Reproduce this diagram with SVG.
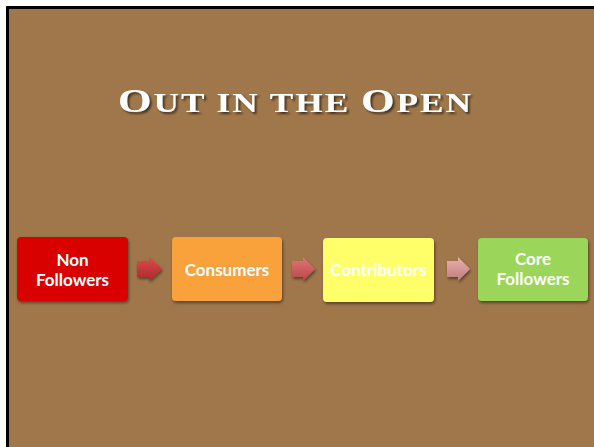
<svg xmlns="http://www.w3.org/2000/svg" width="594" height="447" viewBox="0 0 594 447">
<defs>
<style>
.lbl{font-family:Lato,"Open Sans","Liberation Sans",sans-serif;font-weight:bold;font-size:17px;fill:#fff;text-anchor:middle}
.title{font-family:"Liberation Serif","DejaVu Serif",serif;font-weight:bold;fill:#fff;letter-spacing:1.5px}
</style>
<filter id="sh" x="-20%" y="-20%" width="140%" height="150%">
<feGaussianBlur in="SourceAlpha" stdDeviation="1.5"/>
<feOffset dx="1" dy="2" result="b"/>
<feComponentTransfer><feFuncA type="linear" slope="0.45"/></feComponentTransfer>
<feMerge><feMergeNode/><feMergeNode in="SourceGraphic"/></feMerge>
</filter>
<filter id="tsh" x="-10%" y="-30%" width="120%" height="160%">
<feGaussianBlur in="SourceAlpha" stdDeviation="1.2"/>
<feOffset dx="2" dy="2"/>
<feComponentTransfer><feFuncA type="linear" slope="0.6"/></feComponentTransfer>
<feMerge><feMergeNode/><feMergeNode in="SourceGraphic"/></feMerge>
</filter>
<linearGradient id="g1" x1="0" y1="0" x2="0" y2="1"><stop offset="0" stop-color="#e04a4a"/><stop offset="1" stop-color="#a82a2a"/></linearGradient>
<linearGradient id="g2" x1="0" y1="0" x2="0" y2="1"><stop offset="0" stop-color="#e27575"/><stop offset="1" stop-color="#b84848"/></linearGradient>
<linearGradient id="g3" x1="0" y1="0" x2="0" y2="1"><stop offset="0" stop-color="#eab0b0"/><stop offset="1" stop-color="#c07c7c"/></linearGradient>
</defs>
<rect x="0" y="0" width="594" height="447" fill="#fff"/>
<rect x="6" y="6" width="600" height="460" fill="#000"/>
<rect x="9" y="9" width="600" height="460" fill="#9f774b"/>
<g id="title" filter="url(#tsh)">
<text class="title" x="118" y="112" textLength="355" lengthAdjust="spacingAndGlyphs"><tspan font-size="33">O</tspan><tspan font-size="27">UT IN THE </tspan><tspan font-size="33">O</tspan><tspan font-size="27">PEN</tspan></text>
</g>
<g id="connectors">
<path d="M137,261 H149 V257 L162,269 L149,281 V277 H137 Z" fill="url(#g1)" filter="url(#sh)"/>
<path d="M292,261 H303 V257 L315,269 L303,281 V277 H292 Z" fill="url(#g2)" filter="url(#sh)"/>
<path d="M447,261 H458 V257 L470,269 L458,281 V277 H447 Z" fill="url(#g3)" filter="url(#sh)"/>
</g>
<g id="non-followers">
<rect x="17" y="237" width="111" height="64" rx="4" fill="#d90404" filter="url(#sh)"/>
<text class="lbl" x="72.5" y="266">Non</text>
<text class="lbl" x="72.5" y="286">Followers</text>
</g>
<g id="consumers">
<rect x="172" y="237" width="110" height="64" rx="4" fill="#f9a13b" filter="url(#sh)"/>
<text class="lbl" x="227" y="276">Consumers</text>
</g>
<g id="contributors">
<rect x="323" y="238" width="111" height="64" rx="4" fill="#ffff6b" filter="url(#sh)"/>
<text class="lbl" x="378.5" y="276">Contributors</text>
</g>
<g id="core-followers">
<rect x="478" y="238" width="110" height="63" rx="4" fill="#9bd65a" filter="url(#sh)"/>
<text class="lbl" x="533" y="265">Core</text>
<text class="lbl" x="533" y="285">Followers</text>
</g>
</svg>
